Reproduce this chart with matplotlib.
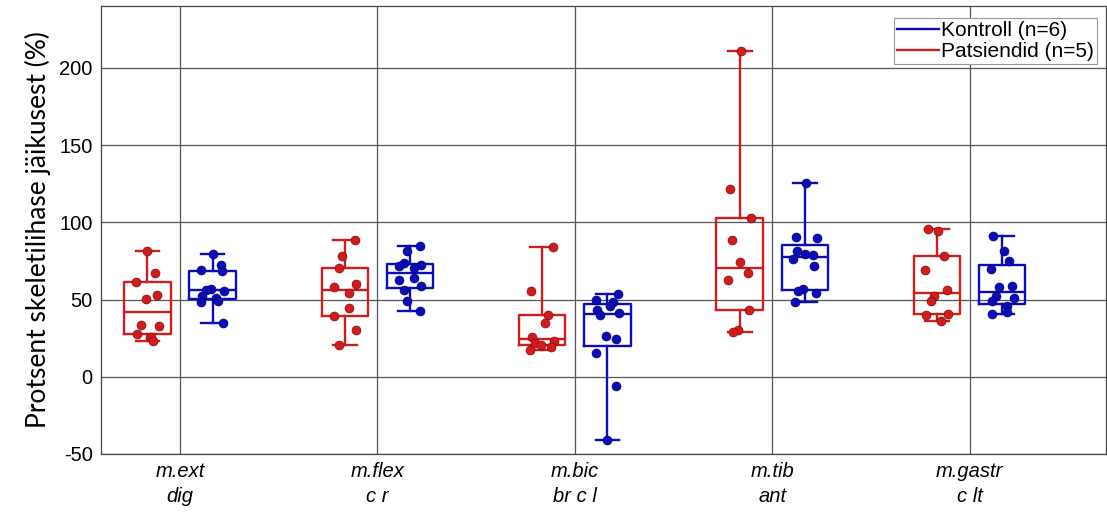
import numpy as np
import matplotlib.pyplot as plt
from matplotlib.lines import Line2D

# muscle groups (x categories)
muscles = ['m.ext\ndig', 'm.flex\nc r', 'm.bic\nbr c l', 'm.tib\nant', 'm.gastr\nc lt']

# stiffness, % of skeletal muscle
patients = [
    [81.6, 67.1, 61.3, 53.1, 50.3, 33.2, 33.0, 27.6, 25.7, 22.9],
    [88.7, 77.9, 70.2, 60.2, 58.0, 54.2, 44.5, 39.5, 30.4, 20.7],
    [84.2, 55.7, 39.7, 34.5, 25.8, 23.0, 21.8, 20.7, 19.5, 17.5],
    [210.7, 121.8, 102.8, 88.7, 74.0, 67.1, 62.4, 43.4, 30.4, 29.1],
    [95.9, 94.1, 77.9, 68.8, 56.3, 52.0, 48.8, 40.8, 39.7, 36.3],
]
controls = [
    [79.4, 72.5, 68.8, 68.4, 57.0, 56.3, 55.7, 52.5, 51.0, 49.2, 48.1, 34.7],
    [84.8, 81.2, 73.6, 72.5, 71.9, 70.4, 63.9, 62.8, 58.5, 56.3, 48.8, 42.7],
    [53.5, 49.9, 48.4, 45.5, 43.4, 41.2, 39.7, 26.6, 24.4, 15.3, -6.3, -41.2],
    [125.4, 90.5, 89.8, 81.2, 79.7, 78.6, 76.0, 71.9, 56.9, 55.7, 54.2, 48.1],
    [91.3, 81.2, 74.7, 69.7, 58.9, 57.8, 52.0, 50.9, 48.8, 45.5, 42.0, 40.8],
]
yticks = [-50, 0, 50, 100, 150, 200]
legend_labels = ['Kontroll (n=6)', 'Patsiendid (n=5)']

red = '#cf1c1c'
blue = '#0b0bb8'


def box_stats(vals):
    # quartiles like matlab prctile, whiskers to min/max
    v = np.asarray(vals)
    q1, med, q3 = np.percentile(v, [25, 50, 75], method='hazen')
    return dict(med=med, q1=q1, q3=q3, whislo=v.min(), whishi=v.max(), fliers=[])


fig = plt.figure(figsize=(11.07, 5.12), dpi=100)
ax = fig.add_axes([0.0912, 0.1133, 0.9078, 0.875])

xpos = np.arange(1, len(muscles) + 1)
shift = 0.165

for data, col, off in [(patients, red, -shift), (controls, blue, shift)]:
    lp = dict(color=col, linewidth=1.7)
    ax.bxp([box_stats(d) for d in data], positions=xpos + off, widths=0.235,
           capwidths=0.12, showfliers=False, boxprops=lp, whiskerprops=lp,
           capprops=lp, medianprops=lp, manage_ticks=False, zorder=3)
    for i, d in enumerate(data):
        n = len(d)
        jit = 0.06 * np.sin(np.arange(n) * 2.39 + i)
        ax.plot(xpos[i] + off + jit, d, 'o', ms=6.5, mfc=col,
                mec='#7a0000' if col == red else '#00005e', mew=0.4,
                zorder=4)

ax.set_xlim(0.6, 5.69)
ax.set_ylim(-50, 240)
ax.set_xticks(xpos)
ax.set_xticklabels(muscles, fontstyle='italic', fontsize=14.5,
                   family=['Liberation Sans Narrow', 'Liberation Sans'],
                   linespacing=1.4)
ax.set_yticks(yticks)
ax.set_yticklabels([str(t) for t in yticks], fontsize=14.5,
                   family='Liberation Sans')
ax.tick_params(length=0, pad=6)
ax.grid(True, color='#555555', linewidth=0.9, zorder=0)
ax.set_axisbelow(True)
for s in ax.spines.values():
    s.set_color('#444444')
    s.set_linewidth(0.9)

ax.set_ylabel('Protsent skeletilihase jäikusest (%)', fontsize=19,
              family='Lato', labelpad=6)

handles = [Line2D([], [], color=blue, lw=1.7), Line2D([], [], color=red, lw=1.7)]
leg = ax.legend(handles, legend_labels, loc='upper right',
                bbox_to_anchor=(0.991, 0.973),
                prop={'family': 'Liberation Sans', 'size': 15},
                fancybox=False, framealpha=1, edgecolor='#999999',
                handlelength=2.0, handletextpad=0.1, borderpad=0.15,
                labelspacing=0.1, borderaxespad=0)
leg.get_frame().set_linewidth(0.8)

fig.savefig('out.png', dpi=100)
